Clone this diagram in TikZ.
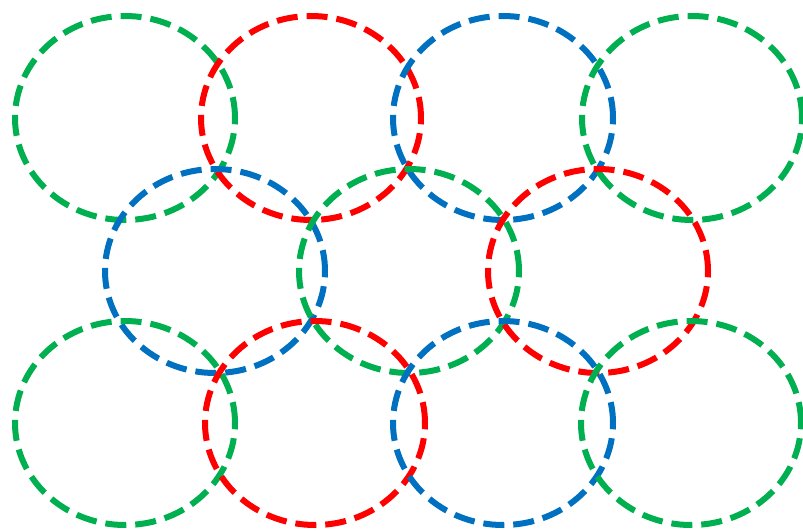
\documentclass[tikz,border=0pt]{standalone}
\definecolor{cgreen}{RGB}{0,176,80}
\definecolor{cred}{RGB}{255,0,0}
\definecolor{cblue}{RGB}{0,112,192}
\tikzset{
  ring/.style={line width=6pt, dash pattern=on 21pt off 9pt},
  gring/.style={ring, draw=cgreen},
  rring/.style={ring, draw=cred},
  bring/.style={ring, draw=cblue},
}
\begin{document}
\begin{tikzpicture}[x=1pt,y=-1pt]
\useasboundingbox (0,0) rectangle (803,530);
\def\rx{110pt}\def\ry{102pt}
% top row
\draw[gring] (125,118) ellipse [x radius=\rx, y radius=\ry];
\draw[rring] (311,118) ellipse [x radius=\rx, y radius=\ry];
\draw[bring] (503,118) ellipse [x radius=\rx, y radius=\ry];
\draw[gring] (692,118) ellipse [x radius=\rx, y radius=\ry];
% middle row
\draw[bring] (215,271) ellipse [x radius=\rx, y radius=\ry];
\draw[gring] (409,271) ellipse [x radius=\rx, y radius=\ry];
\draw[rring] (598,271) ellipse [x radius=\rx, y radius=\ry];
% bottom row
\draw[gring] (125,423) ellipse [x radius=\rx, y radius=\ry];
\draw[rring] (315,423) ellipse [x radius=\rx, y radius=\ry];
\draw[bring] (503,423) ellipse [x radius=\rx, y radius=\ry];
\draw[gring] (691,423) ellipse [x radius=\rx, y radius=\ry];
\end{tikzpicture}
\end{document}
